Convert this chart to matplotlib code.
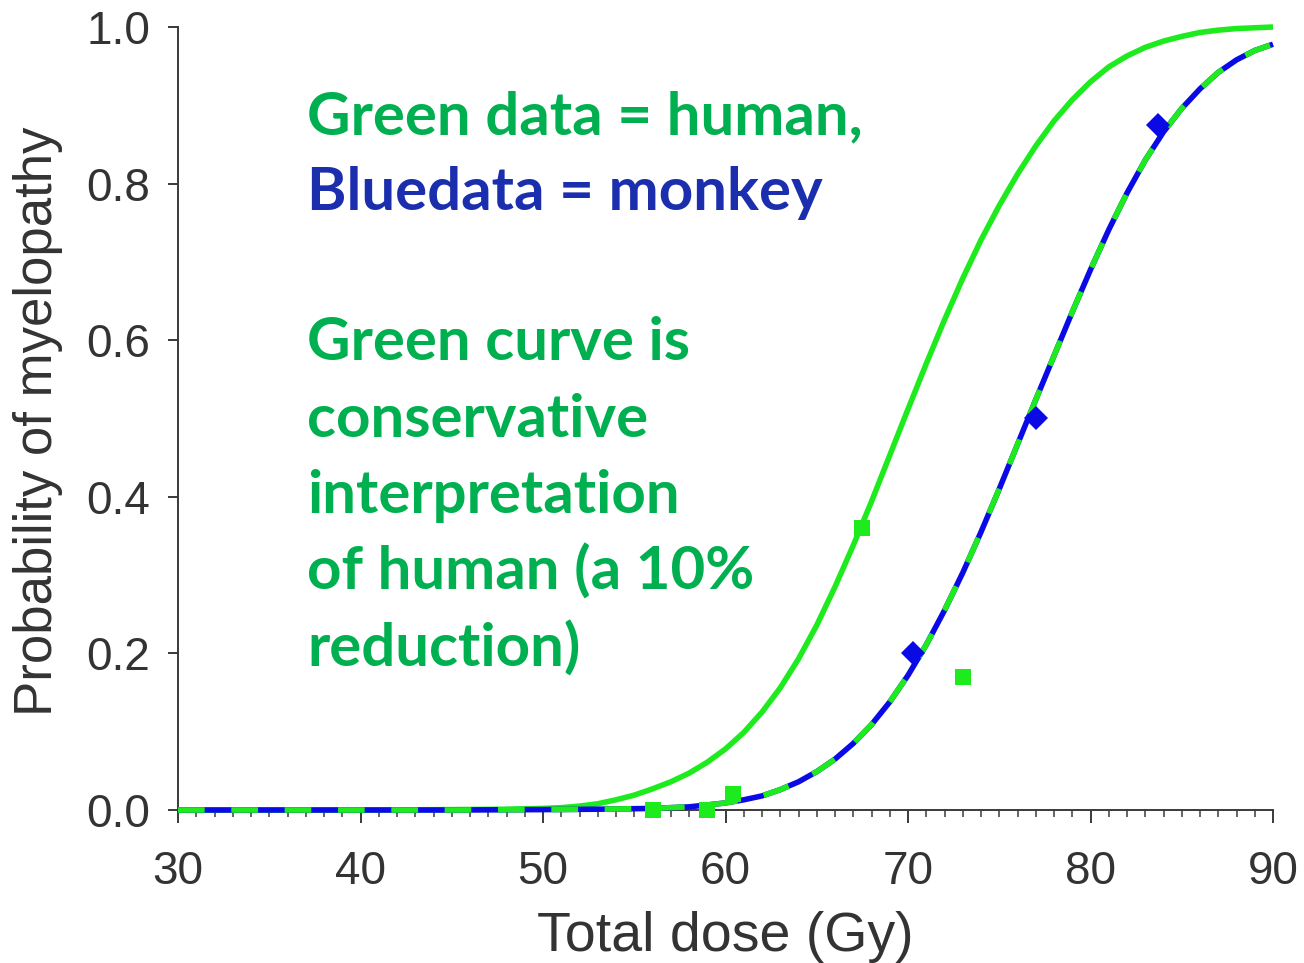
import matplotlib
matplotlib.use("Agg")
import matplotlib.pyplot as plt
from matplotlib.ticker import MultipleLocator, FixedLocator

# ---------------- data ----------------
# observed points
human_dose = [56.0, 59.0, 60.4, 67.5, 73.0]
human_prob = [0.0, 0.0, 0.02, 0.36, 0.17]
monkey_dose = [70.3, 77.0, 83.7]
monkey_prob = [0.20, 0.50, 0.875]

# green solid curve (conservative human curve)
green_curve_dose = [30, 40, 45, 48, 50, 51, 52, 53, 54, 55, 56, 57, 58, 59, 60, 61, 62,
                    63, 64, 65, 66, 67, 68, 69, 70, 71, 72, 73, 74, 75, 76, 77, 78, 79,
                    80, 81, 82, 83, 84, 85, 86, 87, 88, 89, 90]
green_curve_prob = [0.0, 0.0, 0.0005, 0.001, 0.002, 0.003, 0.005, 0.008, 0.013, 0.019,
                    0.027, 0.036, 0.047, 0.061, 0.078, 0.099, 0.125, 0.156, 0.193, 0.236,
                    0.285, 0.338, 0.394, 0.453, 0.512, 0.570, 0.626, 0.679, 0.728, 0.772,
                    0.812, 0.848, 0.880, 0.907, 0.930, 0.949, 0.963, 0.974, 0.982, 0.988,
                    0.993, 0.996, 0.998, 0.999, 1.0]

# blue/green dashed curve (monkey fit)
monkey_curve_dose = [30, 40, 45, 50, 53, 56, 58, 60, 61, 62, 63, 64, 65, 66, 67, 68, 69,
                     70, 71, 72, 73, 74, 75, 76, 77, 78, 79, 80, 81, 82, 83, 84, 85, 86,
                     87, 88, 89, 90]
monkey_curve_prob = [0.0, 0.0, 0.0, 0.0005, 0.001, 0.002, 0.004, 0.009, 0.013, 0.018,
                     0.026, 0.036, 0.049, 0.065, 0.085, 0.109, 0.138, 0.172, 0.211, 0.255,
                     0.303, 0.355, 0.410, 0.467, 0.524, 0.580, 0.636, 0.690, 0.741, 0.788,
                     0.830, 0.866, 0.896, 0.921, 0.942, 0.958, 0.970, 0.978]

x_ticks = [30, 40, 50, 60, 70, 80, 90]
y_ticks = [0.0, 0.2, 0.4, 0.6, 0.8, 1.0]
y_tick_labels = ["0.0", "0.2", "0.4", "0.6", "0.8", "1.0"]

annotation_lines = [
    ("Green data = human,", "#00B050"),
    ("Bluedata = monkey", "#1B2FAE"),
    ("Green curve is", "#00B050"),
    ("conservative", "#00B050"),
    ("interpretation", "#00B050"),
    ("of human (a 10%", "#00B050"),
    ("reduction)", "#00B050"),
]
annotation_baselines_px = [134, 210, 360, 437, 513, 590, 667]

# ---------------- style ----------------
LIME = "#1EEB1E"
BLUE = "#0A0AE6"
AXC = "#3a3a3a"
W, H, DPI = 1304, 963, 100

plt.rcParams["font.family"] = ["Liberation Sans", "DejaVu Sans"]

fig = plt.figure(figsize=(W / DPI, H / DPI), dpi=DPI)
ax = fig.add_axes([178 / W, 1 - 810 / H, (1273 - 178) / W, (810 - 27) / H])

# curves
ax.plot(green_curve_dose, green_curve_prob, color=LIME, lw=4.0, solid_capstyle="butt",
        solid_joinstyle="round", zorder=3, clip_on=False)
ax.plot(monkey_curve_dose, monkey_curve_prob, color=BLUE, lw=4.0, solid_capstyle="butt",
        solid_joinstyle="round", zorder=3, clip_on=False)
ax.plot(monkey_curve_dose, monkey_curve_prob, color=LIME, lw=4.0, dashes=(4.8, 4.8),
        dash_capstyle="butt", dash_joinstyle="round", zorder=3.5, clip_on=False)

# points
ax.plot(human_dose, human_prob, linestyle="none", marker="s", markersize=12,
        color=LIME, markeredgewidth=0, zorder=5, clip_on=False)
ax.plot(monkey_dose, monkey_prob, linestyle="none", marker="D", markersize=12,
        color=BLUE, markeredgewidth=0, zorder=5, clip_on=False)

ax.set_xlim(30, 90)
ax.set_ylim(0, 1.0)

# spines / ticks
for s in ["top", "right"]:
    ax.spines[s].set_visible(False)
for s in ["left", "bottom"]:
    ax.spines[s].set_color(AXC)
    ax.spines[s].set_linewidth(1.4)

ax.xaxis.set_major_locator(FixedLocator(x_ticks))
ax.xaxis.set_minor_locator(MultipleLocator(1))
ax.yaxis.set_major_locator(FixedLocator(y_ticks))
ax.set_yticklabels(y_tick_labels)

ax.tick_params(axis="x", which="major", direction="out", length=9, width=1.4,
               color=AXC, labelsize=33, labelcolor="#333333", pad=20)
ax.tick_params(axis="x", which="minor", direction="out", length=5, width=1.1, color=AXC)
ax.tick_params(axis="y", which="major", direction="out", length=7, width=1.4,
               color=AXC, labelsize=33, labelcolor="#333333", pad=13)

ax.set_xlabel("Total dose (Gy)", fontsize=40, color="#333333", va="center")
ax.xaxis.set_label_coords(0.5, -0.162)
ax.set_ylabel("Probability of myelopathy", fontsize=38, color="#333333", va="center")
ax.yaxis.set_label_coords(-0.128, 0.496)

# annotation text, fitted so the first line spans ~555 px
renderer = fig.canvas.get_renderer()
probe = fig.text(0, 0, annotation_lines[0][0], fontsize=44, fontweight="bold",
                 family=["Lato", "DejaVu Sans"])
w0 = probe.get_window_extent(renderer).width
probe.remove()
fs = 44 * 555 / w0

for (txt, col), base in zip(annotation_lines, annotation_baselines_px):
    fig.text(307 / W, 1 - base / H, txt, fontsize=fs, fontweight="bold",
             family=["Lato", "DejaVu Sans"], color=col, ha="left", va="baseline")

fig.savefig("out.png", dpi=DPI)
